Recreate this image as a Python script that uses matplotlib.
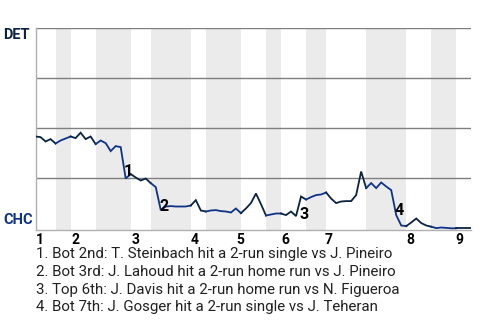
import matplotlib
matplotlib.use("Agg")
import matplotlib.pyplot as plt

# =================================================
# DATOS
# =================================================

# probabilidad de victoria de DET (%) despues de cada turno al bate
prob_det = [45.9, 45.6, 43.4, 44.6, 42.4, 43.9, 44.9, 45.9, 45.1, 47.8,
            44.6, 45.9, 42.1, 43.9, 42.6, 38.6, 41.1, 40.6, 24.9, 27.1,
            25.4, 23.9, 24.9, 22.6, 20.6, 9.1, 10.9, 11.1, 10.9, 10.9,
            10.9, 11.4, 14.1, 8.9, 8.4, 8.9, 9.1, 8.6, 8.4, 7.9,
            9.9, 7.6, 9.9, 12.6, 17.4, 12.1, 6.4, 6.9, 7.4, 7.4,
            6.6, 8.4, 6.1, 15.9, 14.4, 15.6, 16.6, 16.9, 17.9, 14.9,
            12.6, 13.4, 13.6, 13.6, 16.6, 28.4, 20.1, 22.6, 20.1, 22.9,
            20.9, 19.1, 6.6, 1.4, 1.1, 2.9, 4.9, 2.6, 1.4, 0.8,
            0.1, 0.4, 0.2, 0.0, 0.0, 0.0, 0.0, 0.0]

# turnos por media entrada (alta, baja, alta, baja...)
turnos_media = [4, 3, 5, 7, 4, 8, 3, 7, 5, 3, 5, 4, 8, 8, 5, 5, 3]

entradas = ["1", "2", "3", "4", "5", "6", "7", "8", "9"]
pos_entradas = [0.9, 7.9, 19.9, 31.8, 40.8, 49.8, 58.6, 74.75, 84.7]

# jugadas destacadas: indice del turno y texto
jugadas_idx = [18, 25, 53, 72]
jugadas_txt = [
    "1. Bot 2nd: T. Steinbach hit a 2-run single vs J. Pineiro",
    "2. Bot 3rd: J. Lahoud hit a 2-run home run vs J. Pineiro",
    "3. Top 6th: J. Davis hit a 2-run home run vs N. Figueroa",
    "4. Bot 7th: J. Gosger hit a 2-run single vs J. Teheran",
]

COLOR_DET = "#0c2340"
COLOR_CHC = "#0e3386"

plt.rcParams["font.family"] = ["Roboto", "DejaVu Sans"]

fig = plt.figure(figsize=(4.8, 3.2), dpi=100)
ax = fig.add_axes([0.074, 0.28125, 0.908, 0.6303])

# limites de cada media entrada
limites = [0]
for n in turnos_media:
    limites.append(limites[-1] + n)

# bandas grises en las bajas
for k in range(len(turnos_media)):
    if k % 2 == 1:
        ax.axvspan(limites[k], limites[k + 1], color="#ebebeb", lw=0, zorder=0)

# lineas horizontales
for v in [25, 50, 75, 100]:
    ax.axhline(v, color="#7f7f7f", lw=1.0, zorder=1)

# la linea, coloreada segun quien batea
for k in range(len(turnos_media)):
    a, b = limites[k], limites[k + 1]
    color = COLOR_DET if k % 2 == 0 else COLOR_CHC
    ax.plot(range(a, b + 1), prob_det[a:b + 1], color=color, lw=1.3,
            solid_joinstyle="miter", zorder=3)

# numeros de las jugadas
for n, i in enumerate(jugadas_idx):
    xm = i - 0.5
    ym = (prob_det[i - 1] + prob_det[i]) / 2
    ax.annotate(str(n + 1), (xm, ym), xytext=(4, -6), textcoords="offset points",
                ha="center", va="center", fontsize=11.5, fontweight="bold",
                color="black", zorder=4)

ax.set_xlim(0, limites[-1])
ax.set_ylim(-0.85, 100)
ax.set_yticks([])
ax.set_xticks(pos_entradas)
ax.set_xticklabels(entradas, fontsize=10, fontweight="bold", color="black")
ax.tick_params(axis="x", length=0, pad=2)

for lado in ["top", "right"]:
    ax.spines[lado].set_visible(False)
ax.spines["left"].set_color("#b0b0b0")
ax.spines["bottom"].set_color("#b0b0b0")
ax.spines["left"].set_linewidth(1.0)
ax.spines["bottom"].set_linewidth(1.0)

# equipos
fig.text(3 / 480, 1 - 35 / 320, "DET", color=COLOR_DET, fontsize=10.5,
         fontweight="bold", ha="left", va="center")
fig.text(3 / 480, 1 - 220 / 320, "CHC", color=COLOR_CHC, fontsize=10.5,
         fontweight="bold", ha="left", va="center")

# leyenda de jugadas
for n, txt in enumerate(jugadas_txt):
    fig.text(36 / 480, 1 - (254 + n * 17.8) / 320, txt, fontsize=10.85,
             color="#212121", ha="left", va="center")

fig.savefig("out.png", dpi=100)
